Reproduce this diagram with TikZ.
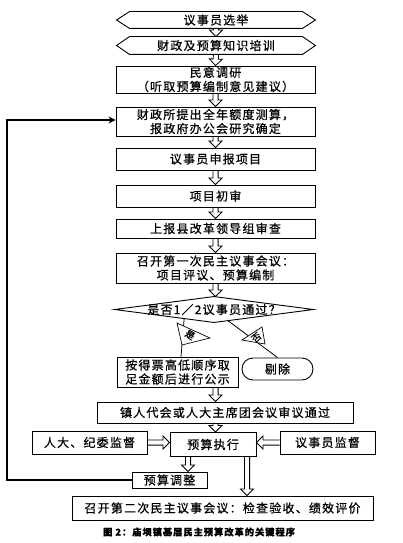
\documentclass[tikz,border=0pt]{standalone}
\usepackage{fontspec}
\setmainfont[LetterSpace=10, FakeBold=0.6]{Noto Sans CJK SC}
\usetikzlibrary{calc,arrows.meta}
\newcommand{\boxfont}{\fontsize{12}{14}\selectfont}
\tikzset{
  box/.style={draw, line width=0.9pt, inner sep=0pt, align=center, font=\boxfont},
  outline/.style={line width=0.9pt},
  hollow/.style={line width=0.8pt, line join=miter},
  looparrow/.style={line width=1.2pt, -{Stealth[length=7pt,width=7pt]}},
  tagtri/.style={line width=0.7pt, fill=white},
  taglab/.style={font=\fontsize{9.5}{9.5}\selectfont, inner sep=0pt},
  branch/.style={line width=0.8pt},
}
\newcommand{\hollowarrow}[2]{%
  \draw[hollow] let \p1=(#1), \p2=(#2),
      \n1={atan2(\y2-\y1,\x2-\x1)},
      \n2={veclen(\x2-\x1,\y2-\y1)-6.5pt} in
    ($(\p1)+(\n1+90:2.6pt)$) -- ($(\p1)+(\n1:\n2)+(\n1+90:2.6pt)$)
    -- ($(\p1)+(\n1:\n2)+(\n1+90:6.5pt)$) -- (\p2)
    -- ($(\p1)+(\n1:\n2)+(\n1-90:6.5pt)$) -- ($(\p1)+(\n1:\n2)+(\n1-90:2.6pt)$)
    -- ($(\p1)+(\n1-90:2.6pt)$);
}
\begin{document}
\begin{tikzpicture}[x=1pt,y=-1pt]
\fill[white] (0,0) rectangle (403,543);
\useasboundingbox (0,0) rectangle (403,543);

% chevron boxes
\node[box, draw=none, minimum width=198pt, minimum height=16pt] (b1) at (216,20) {议事员选举};
\draw[outline] (b1.west) -- ([xshift=13pt]b1.north west) -- ([xshift=-13pt]b1.north east)
  -- (b1.east) -- ([xshift=-13pt]b1.south east) -- ([xshift=13pt]b1.south west) -- cycle;
\node[box, draw=none, minimum width=198pt, minimum height=17pt] (b2) at (216,45.5) {财政及预算知识培训};
\draw[outline] (b2.west) -- ([xshift=13pt]b2.north west) -- ([xshift=-13pt]b2.north east)
  -- (b2.east) -- ([xshift=-13pt]b2.south east) -- ([xshift=13pt]b2.south west) -- cycle;

% process boxes
\node[box, minimum width=199pt, minimum height=27pt] (b3) at (215.5,79.5) {民意调研\\（听取预算编制意见建议）};
\node[box, minimum width=199pt, minimum height=29pt] (b4) at (215.5,121.5) {财政所提出全年额度测算，\\报政府办公会研究确定};
\node[box, minimum width=199pt, minimum height=22pt] (b5) at (215.5,159) {议事员申报项目};
\node[box, minimum width=199pt, minimum height=22pt] (b6) at (215.5,196) {项目初审};
\node[box, minimum width=199pt, minimum height=19pt] (b7) at (215.5,228.5) {上报县改革领导组审查};
\node[box, minimum width=199pt, minimum height=30pt] (b8) at (215.5,268) {召开第一次民主议事会议：\\项目评议、预算编制};

% decision
\node[box, draw=none, minimum width=198pt, minimum height=25pt] (d) at (214,309.5) {是否1／2议事员通过？};
\draw[outline] (d.west) -- (d.north) -- (d.east) -- (d.south) -- cycle;

\node[box, minimum width=121pt, minimum height=30pt] (yes) at (177.5,372) {按得票高低顺序取\\足金额后进行公示};
\node[box, rounded corners=11pt, minimum width=71pt, minimum height=22pt] (cut) at (277.5,369) {剔除};

\node[box, minimum width=256pt, minimum height=21pt] (b9) at (225,412.5) {镇人代会或人大主席团会议审议通过};
\node[box, minimum width=86pt, minimum height=24pt] (exec) at (213,444.5) {预算执行};
\node[box, minimum width=115pt, minimum height=23pt] (left) at (89.5,442.5) {人大、纪委监督};
\node[box, minimum width=95pt, minimum height=23pt] (right) at (327.5,442.5) {议事员监督};
\node[box, minimum width=75pt, minimum height=16pt] (adj) at (169.5,480) {预算调整};
\node[box, minimum width=301pt, minimum height=24pt] (fin) at (222.5,508) {召开第二次民主议事会议：检查验收、绩效评价};

\node[font=\fontsize{9.3}{10}\selectfont\bfseries, inner sep=0pt] (cap) at (199,532) {图 2：庙坝镇基层民主预算改革的关键程序};

% hollow arrows
\hollowarrow{b1.south}{b2.north}
\hollowarrow{b2.south}{b3.north}
\hollowarrow{b3.south}{b4.north}
\hollowarrow{b4.south}{b5.north}
\hollowarrow{b5.south}{b6.north}
\hollowarrow{b6.south}{b7.north}
\hollowarrow{b7.south}{b8.north}
\hollowarrow{b8.south}{b8.south |- d.north}
\hollowarrow{b8.south |- yes.south}{b8.south |- b9.north}
\hollowarrow{b8.south |- b9.south}{b8.south |- exec.north}
\hollowarrow{left.east}{left.east -| exec.west}
\hollowarrow{right.west}{right.west -| exec.east}
\coordinate (ea) at ([xshift=-25pt]exec.south);
\hollowarrow{ea}{ea |- adj.north}
\coordinate (eb) at ([xshift=34pt]exec.south);
\hollowarrow{eb}{eb |- fin.north}

% loop back
\coordinate (lc) at (7,120);
\draw[looparrow] (adj.west) -| (lc) -- (lc -| b4.west);

% branches
\draw[branch] ($(d.south)!0.3!(d.west)$) -- ([xshift=3.5pt]yes.north);
\draw[tagtri] (177,323) -- (182,345) -- (210,338) -- cycle;
\node[taglab, rotate=-30] (yl) at (190,335) {是};
\draw[branch] ($(d.south)!0.14!(d.east)$) -- (cut.north);
\draw[tagtri] (242,340) -- (262,327) -- (265,344) -- cycle;
\node[taglab, rotate=40] (nl) at (256.5,337.5) {否};
\end{tikzpicture}
\end{document}
